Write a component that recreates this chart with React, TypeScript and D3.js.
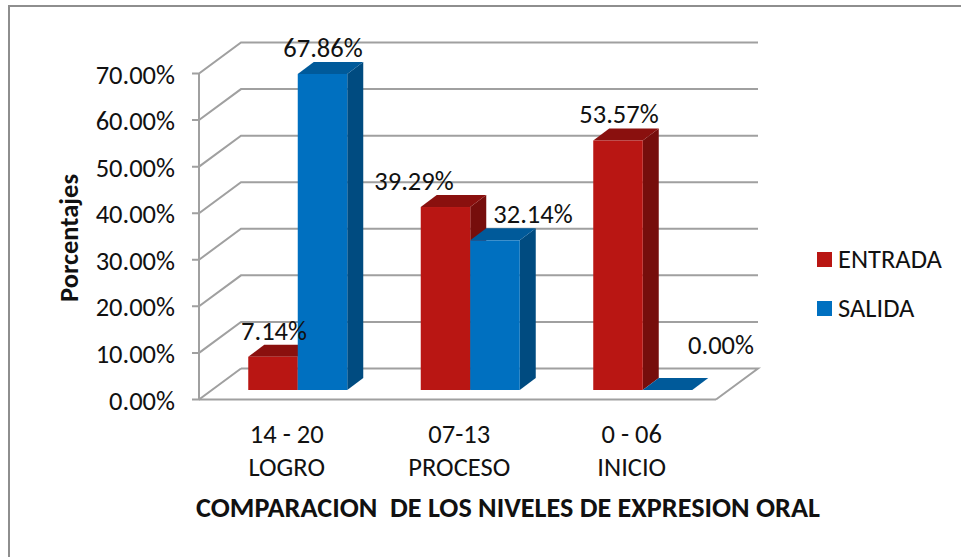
import React from "react";
import * as d3 from "d3";

const categories = ["14 - 20", "07-13", "0 - 06"];
const categorySub = ["LOGRO", "PROCESO", "INICIO"];
const seriesNames = ["ENTRADA", "SALIDA"];
const entrada = [7.14, 39.29, 53.57];
const salida = [67.86, 32.14, 0];
const ticks = [0, 10, 20, 30, 40, 50, 60, 70];

const font = "Carlito, Calibri, Lato, sans-serif";
const FS = 26.5;
const colors = [
  { front: "#B91613", top: "#8A100E", side: "#760E0C" },
  { front: "#0070C0", top: "#005A9A", side: "#004B80" },
];

const y = d3.scaleLinear().domain([0, 70]).range([399.5, 73.5]);
const band = d3.scaleBand().domain(categories).range([211.5, 729]);
const GX0 = 199, GX1 = 716, BX = 42, BY = -31;
const OFFY = -9.5, DX = 16, DY = -12, BARW = 49.5;
const poly = (p: number[][]) => p.map((q) => q.join(",")).join(" ");
const grey = "#A0A0A0";

export default function App() {
  return (
    <svg width={961} height={557} style={{ position: "absolute", left: 0, top: 0, background: "#fff" }} fontFamily={font} fill="#111">
      <polyline points="9,557 9,6 961,6" fill="none" stroke="#8E8E8E" strokeWidth={2} />
      {ticks.map((t) => (
        <polyline key={t} stroke={grey} strokeWidth={2} fill="none" points={poly([[GX0 - 7, y(t)], [GX0, y(t)], [GX0 + BX, y(t) + BY]].concat(t === 0 ? [] : [[GX1 + BX, y(t) + BY]]))} />
      ))}
      <line x1={GX0} x2={GX0} y1={y(0)} y2={y(70)} stroke={grey} strokeWidth={2} />
      <line x1={GX0} x2={GX1} y1={y(0)} y2={y(0)} stroke={grey} strokeWidth={2} />
      <polyline points={poly([[GX0 + BX, y(0) + BY], [GX1 + BX, y(0) + BY], [GX1, y(0)]])} fill="none" stroke={grey} strokeWidth={2} />
      {ticks.map((t) => (
        <text key={t} x={175} y={y(t) + 10} textAnchor="end" fontSize={FS}>{d3.format(".2f")(t)}%</text>
      ))}
      {categories.map((c, i) => {
        const center = band(c)! + band.bandwidth() / 2;
        return [entrada[i], salida[i]].map((v, s) => {
          const x0 = center - BARW + s * BARW, x1 = x0 + BARW;
          const yb = y(0) + OFFY, yt = y(v) + OFFY;
          const col = colors[s];
          return (
            <g key={c + s}>
              <polygon fill={col.side} points={poly([[x1, yt], [x1 + DX, yt + DY], [x1 + DX, yb + DY], [x1, yb]])} />
              <polygon fill={col.top} points={poly([[x0, yt], [x1, yt], [x1 + DX, yt + DY], [x0 + DX, yt + DY]])} />
              <rect x={x0} y={yt} width={BARW} height={yb - yt} fill={col.front} />
            </g>
          );
        });
      })}
      {categories.map((c, i) => {
        const center = band(c)! + band.bandwidth() / 2 - 11;
        return (
          <g key={c} fontSize={FS} textAnchor="middle">
            <text x={center} y={443}>{c}</text>
            <text x={center} y={476}>{categorySub[i]}</text>
          </g>
        );
      })}
      <g fontSize={FS} textAnchor="middle">
        <text x={274} y={340}>{d3.format(".2f")(entrada[0])}%</text>
        <text x={414} y={190}>{d3.format(".2f")(entrada[1])}%</text>
        <text x={619} y={123}>{d3.format(".2f")(entrada[2])}%</text>
        <text x={323} y={57}>{d3.format(".2f")(salida[0])}%</text>
        <text x={533} y={223}>{d3.format(".2f")(salida[1])}%</text>
        <text x={721} y={354}>{d3.format(".2f")(salida[2])}%</text>
      </g>
      <text transform="translate(78,238) rotate(-90)" textAnchor="middle" fontSize={FS} fontWeight={700}>Porcentajes</text>
      <text x={508} y={517} textAnchor="middle" fontSize={28.2} fontWeight={700} style={{ whiteSpace: "pre" }}>COMPARACION  DE LOS NIVELES DE EXPRESION ORAL</text>
      {seriesNames.map((n, i) => (
        <g key={n}>
          <rect x={817} y={252 + i * 49} width={15} height={15} fill={colors[i].front} />
          <text x={838} y={268 + i * 49} fontSize={FS}>{n}</text>
        </g>
      ))}
    </svg>
  );
}
